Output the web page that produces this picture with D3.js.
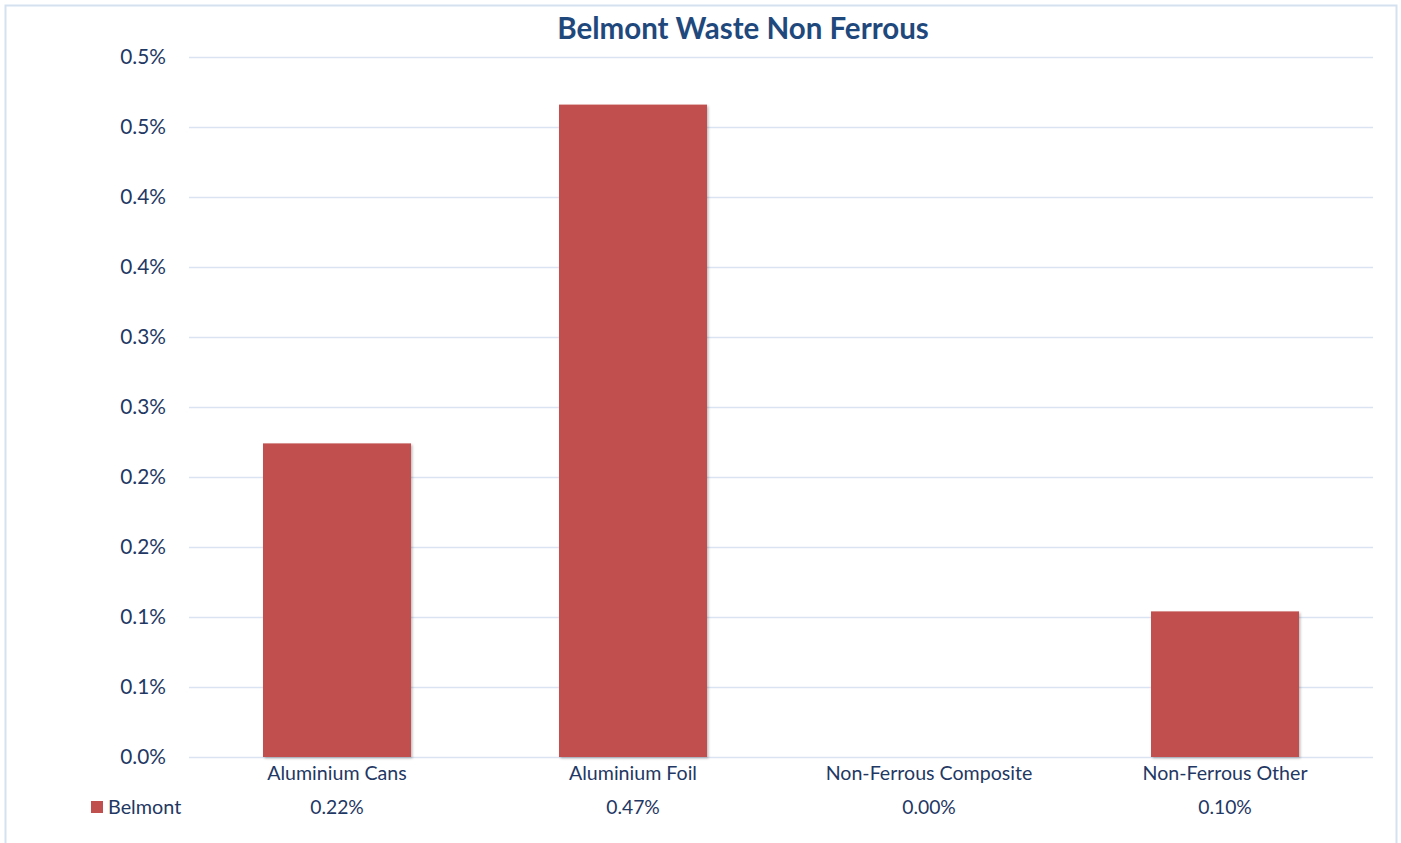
<!DOCTYPE html>
<html><head><meta charset="utf-8">
<script src="https://cdn.jsdelivr.net/npm/d3@7"></script>
<style>
html,body{margin:0;padding:0;background:#fff;}
svg{display:block;}
text{font-family:Lato,"Open Sans",sans-serif;}
</style></head>
<body>
<svg id="chart" width="1401" height="843"></svg>
<script>
const title = "Belmont Waste Non Ferrous";
const seriesName = "Belmont";
const categories = ["Aluminium Cans","Aluminium Foil","Non-Ferrous Composite","Non-Ferrous Other"];
const values = [0.224, 0.466, 0.0, 0.104]; // percent
const tickValues = [0,0.05,0.1,0.15,0.2,0.25,0.3,0.35,0.4,0.45,0.5];
const tickLabels = ["0.0%","0.1%","0.1%","0.2%","0.2%","0.3%","0.3%","0.4%","0.4%","0.5%","0.5%"];

(function(){
const svg = d3.select("#chart");
const textColor = "#1F3864";
const barColor = "#C0504D";
const gridColor = "#D9E3F1";

const defs = svg.append("defs");
const f = defs.append("filter").attr("id","sh").attr("x","-5%").attr("y","-5%").attr("width","115%").attr("height","115%");
f.append("feDropShadow").attr("dx",1.5).attr("dy",1.5).attr("stdDeviation",1.2).attr("flood-color","#000").attr("flood-opacity",0.25);

// outer border
svg.append("rect").attr("x",5.5).attr("y",5.5).attr("width",1391).attr("height",850)
  .attr("fill","#fff").attr("stroke","#D6E1F0").attr("stroke-width",2);

const pl = 189, pr = 1373, pt = 57, pb = 757;
const x = d3.scaleBand().domain(categories).range([pl,pr]).paddingInner(0.5).paddingOuter(0.25);
const y = d3.scaleLinear().domain([0,0.5]).range([pb,pt]);

// gridlines
svg.append("g").selectAll("line").data(tickValues).join("line")
  .attr("x1",pl).attr("x2",pr)
  .attr("y1",d=>y(d)+0.5).attr("y2",d=>y(d)+0.5)
  .attr("stroke",gridColor).attr("stroke-width",1.6);

// y axis labels
const yAxis = d3.axisLeft(y).tickValues(tickValues).tickFormat((d,i)=>tickLabels[i]).tickSize(0).tickPadding(0);
const ga = svg.append("g").attr("transform",`translate(166,0)`).call(yAxis);
ga.select(".domain").remove();
ga.selectAll("text").attr("fill",textColor).style("font-size","20.8px").style("font-family","Lato,'Open Sans',sans-serif");

// bars
svg.append("g").selectAll("rect").data(values).join("rect")
  .attr("x",(d,i)=>x(categories[i]))
  .attr("width",x.bandwidth())
  .attr("y",d=>y(d))
  .attr("height",d=>pb-y(d))
  .attr("fill",barColor)
  .attr("filter","url(#sh)");

// category labels
svg.append("g").selectAll("text").data(categories).join("text")
  .attr("x",d=>x(d)+x.bandwidth()/2).attr("y",780)
  .attr("text-anchor","middle").attr("fill",textColor).style("font-size","19.6px")
  .text(d=>d);

// data table values
svg.append("g").selectAll("text").data(values).join("text")
  .attr("x",(d,i)=>x(categories[i])+x.bandwidth()/2).attr("y",814)
  .attr("text-anchor","middle").attr("fill",textColor).style("font-size","19.3px")
  .text(d=>d.toFixed(2)+"%");

// legend key
svg.append("rect").attr("x",91).attr("y",801).attr("width",12).attr("height",12).attr("fill",barColor);
svg.append("text").attr("x",108).attr("y",814).attr("fill",textColor).style("font-size","19.8px").text(seriesName);

// title
svg.append("text").attr("x",743).attr("y",39).attr("text-anchor","middle")
  .attr("fill","#1F497D").style("font-size","29.5px").style("font-weight","bold").text(title);
})();
</script>
</body></html>
